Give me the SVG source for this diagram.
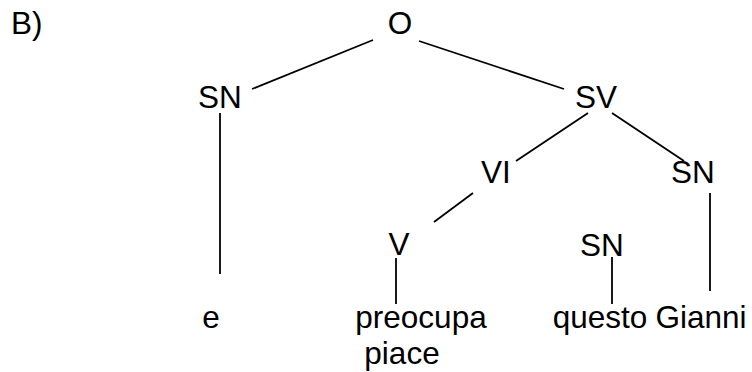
<svg xmlns="http://www.w3.org/2000/svg" width="752" height="372" viewBox="0 0 752 372">
<style>
text{font-family:"Liberation Sans",Arial,sans-serif;font-size:31.5px;fill:#000;text-anchor:middle}
.e line{stroke:#000;stroke-width:1.8;fill:none}
</style>
<rect width="752" height="372" fill="#fff"/>
<g id="label"><text x="11" y="34" style="text-anchor:start">B)</text></g>
<g class="e" id="connectors">
<line x1="373" y1="40" x2="252" y2="89"/>
<line x1="419" y1="41" x2="564" y2="89"/>
<line x1="220" y1="113" x2="220" y2="274"/>
<line x1="588" y1="113" x2="516" y2="161"/>
<line x1="612" y1="113" x2="684" y2="161"/>
<line x1="473" y1="193" x2="434" y2="222"/>
<line x1="396" y1="258" x2="396" y2="304"/>
<line x1="612" y1="257" x2="612" y2="304"/>
<line x1="710" y1="193" x2="710" y2="291"/>
</g>
<g id="O"><text x="400" y="34">O</text></g>
<g id="SN1"><text x="220" y="108">SN</text></g>
<g id="SV"><text x="596" y="108">SV</text></g>
<g id="VI"><text x="496" y="183">VI</text></g>
<g id="SN2"><text x="693" y="183">SN</text></g>
<g id="V"><text x="399" y="255">V</text></g>
<g id="SN3"><text x="602" y="256">SN</text></g>
<g id="e"><text x="211" y="328">e</text></g>
<g id="preocupa"><text x="421" y="328">preocupa</text><text x="402" y="364">piace</text></g>
<g id="questo"><text x="600" y="328">questo</text></g>
<g id="Gianni"><text x="701" y="328">Gianni</text></g>
</svg>
